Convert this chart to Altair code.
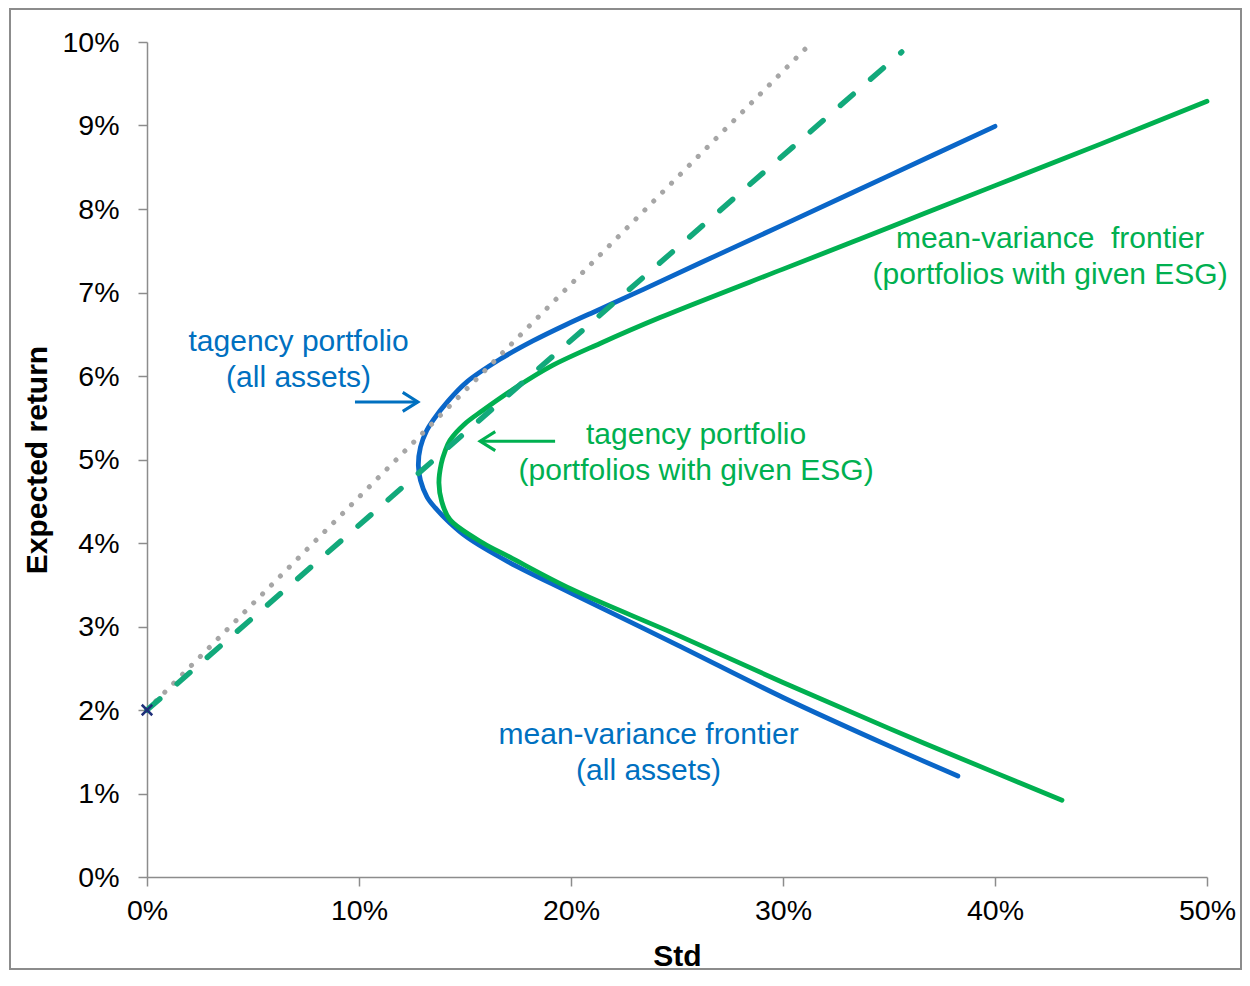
import altair as alt
import pandas as pd

# ---------------- data (values in %) ----------------
x_ticks = [0, 10, 20, 30, 40, 50]
y_ticks = [0, 1, 2, 3, 4, 5, 6, 7, 8, 9, 10]

# mean-variance frontier, all assets (from lower end to upper end)
blue_std = [38.25, 35.0, 30.0, 25.0, 20.0, 17.0, 15.09, 14.29, 13.6, 13.21, 12.9, 12.8,
            12.9, 13.2, 13.49, 14.2, 15.09, 16.65, 18.2, 19.81, 21.37, 22.92, 24.2, 27.0, 30.0, 35.0, 40.0]
blue_ret = [1.21, 1.57, 2.15, 2.78, 3.40, 3.78, 4.07, 4.24, 4.42, 4.55, 4.75, 4.93,
            5.15, 5.35, 5.47, 5.70, 5.93, 6.20, 6.42, 6.62, 6.80, 6.98, 7.13, 7.46, 7.81, 8.40, 8.99]

# mean-variance frontier, portfolios with given ESG
green_std = [43.16, 40.0, 35.0, 30.0, 25.0, 20.0, 17.12, 15.85, 14.29, 13.9, 13.77, 13.88,
             14.06, 14.29, 14.96, 15.85, 17.45, 19.0, 21.37, 24.2, 30.0, 33.63, 36.6, 40.0, 45.0, 50.0]
green_ret = [0.92, 1.25, 1.78, 2.33, 2.90, 3.45, 3.83, 4.0, 4.28, 4.5, 4.72, 4.95,
             5.10, 5.23, 5.42, 5.59, 5.87, 6.11, 6.39, 6.70, 7.28, 7.64, 7.94, 8.28, 8.78, 9.29]

# capital market lines through the risk-free rate
cml_all_std = [0.0, 31.37]
cml_all_ret = [2.0, 10.0]
cml_esg_std = [0.0, 35.6]
cml_esg_ret = [2.0, 9.88]

rf_std = [0.0]
rf_ret = [2.0]

# annotation arrows (shaft start, tip)
arrow_blue_std = [9.81, 12.78]
arrow_blue_ret = [5.69, 5.69]
arrow_green_std = [19.25, 15.71]
arrow_green_ret = [5.22, 5.22]

# annotation texts (first-line baseline anchor)
ann_text = [["tagency portfolio", "(all assets)"],
            ["tagency portfolio", "(portfolios with given ESG)"],
            ["mean-variance \u00a0frontier", "(portfolios with given ESG)"],
            ["mean-variance frontier", "(all assets)"]]
ann_std = [7.15, 25.9, 42.6, 23.66]
ann_ret = [6.30, 5.19, 7.53, 1.59]
ann_color = ["#0070C0", "#00B050", "#00B050", "#0070C0"]

BLUE = "#0A66C8"
GREEN = "#00B050"
TEAL = "#12A97B"
GRAY = "#A6A6A6"
FONT = "Liberation Sans"

W, H = 1060, 835

xscale = alt.Scale(domain=[0, 50], nice=False, zero=False)
yscale = alt.Scale(domain=[0, 10], nice=False, zero=False)

xaxis = alt.Axis(values=x_ticks, labelExpr="datum.value + '%'", title="Std", grid=False,
                 domainColor="#8C8C8C", domainWidth=1.5, tickColor="#8C8C8C", tickWidth=1.5,
                 tickSize=9, labelFont=FONT, labelFontSize=28.5, labelColor="#000000",
                 labelPadding=10, labelFlush=False, titleFont=FONT, titleFontSize=30,
                 titleFontWeight="bold", titleColor="#000000", titleY=79, titleX=530,
                 titleBaseline="middle")
yaxis = alt.Axis(values=y_ticks, labelExpr="datum.value + '%'", title="Expected return", grid=False,
                 domainColor="#8C8C8C", domainWidth=1.5, tickColor="#8C8C8C", tickWidth=1.5,
                 tickSize=9, labelFont=FONT, labelFontSize=28.5, labelColor="#000000",
                 labelPadding=19, labelFlush=False, titleFont=FONT, titleFontSize=30,
                 titleFontWeight="bold", titleColor="#000000", titleX=-110, titleY=417.5,
                 titleBaseline="middle", titleAngle=270)


def enc(chart):
    return chart.encode(
        x=alt.X("s:Q", scale=xscale, axis=xaxis),
        y=alt.Y("r:Q", scale=yscale, axis=yaxis),
    )


def curve_df(std, ret):
    return pd.DataFrame({"s": std, "r": ret, "i": list(range(len(std)))})


blue = enc(alt.Chart(curve_df(blue_std, blue_ret)).mark_line(
    color=BLUE, strokeWidth=4.8, strokeCap="round", strokeJoin="round", interpolate="catmull-rom"
)).encode(order="i:Q")

green = enc(alt.Chart(curve_df(green_std, green_ret)).mark_line(
    color=GREEN, strokeWidth=4.8, strokeCap="round", strokeJoin="round", interpolate="catmull-rom"
)).encode(order="i:Q")

cml_all = enc(alt.Chart(curve_df(cml_all_std, cml_all_ret)).mark_line(
    color=GRAY, strokeWidth=5, strokeCap="round", strokeDash=[0.1, 12.5]
)).encode(order="i:Q")

cml_esg = enc(alt.Chart(curve_df(cml_esg_std, cml_esg_ret)).mark_line(
    color=TEAL, strokeWidth=5.5, strokeCap="round", strokeDash=[17, 23]
)).encode(order="i:Q")

rf = enc(alt.Chart(pd.DataFrame({"s": rf_std, "r": rf_ret})).mark_point(
    shape="M-1,-1L1,1M-1,1L1,-1", size=110, filled=False, stroke="#1F2F7A", strokeWidth=2.5, opacity=1
))

arrow_b = enc(alt.Chart(curve_df(arrow_blue_std, arrow_blue_ret)).mark_line(
    color="#0070C0", strokeWidth=3
)).encode(order="i:Q")
arrow_b_head = enc(alt.Chart(pd.DataFrame({"s": arrow_blue_std[1:], "r": arrow_blue_ret[1:]})).mark_point(
    shape="M-1.6,-1L0,0L-1.6,1", size=361, filled=False, stroke="#0070C0", strokeWidth=3, opacity=1
))
arrow_g = enc(alt.Chart(curve_df(arrow_green_std, arrow_green_ret)).mark_line(
    color=GREEN, strokeWidth=3
)).encode(order="i:Q")
arrow_g_head = enc(alt.Chart(pd.DataFrame({"s": arrow_green_std[1:], "r": arrow_green_ret[1:]})).mark_point(
    shape="M1.6,-1L0,0L1.6,1", size=361, filled=False, stroke=GREEN, strokeWidth=3, opacity=1
))

ann = enc(alt.Chart(pd.DataFrame({"s": ann_std, "r": ann_ret, "t": ann_text, "c": ann_color})).mark_text(
    font=FONT, fontSize=30, align="center", baseline="alphabetic", lineHeight=36
)).encode(text="t", color=alt.Color("c:N", scale=None))

frame = alt.Chart(pd.DataFrame({"k": [0]})).mark_rect(
    fillOpacity=0, stroke="#8C8C8C", strokeWidth=2
).encode(x=alt.value(-137), x2=alt.value(1094), y=alt.value(-33), y2=alt.value(927))

chart = alt.layer(
    frame, blue, green, cml_all, cml_esg, rf, arrow_b, arrow_b_head, arrow_g, arrow_g_head, ann
).properties(
    width=W, height=H,
    autosize=alt.AutoSizeParams(type="none"),
    padding={"left": 139, "top": 34, "right": 35, "bottom": 93},
    background="white",
).configure_view(strokeWidth=0)

chart.save("out.html", embed_options={"renderer": "svg", "actions": False})
